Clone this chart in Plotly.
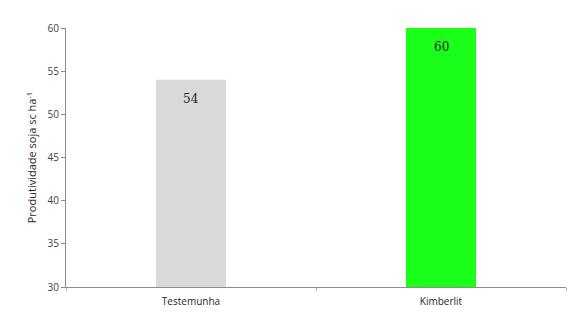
import plotly.graph_objects as go

categories = ["Testemunha", "Kimberlit"]
values = [54, 60]
colors = ["#d9d9d9", "#1aff1a"]
y_ticks = [30, 35, 40, 45, 50, 55, 60]

fig = go.Figure()
fig.add_trace(go.Bar(
    x=categories, y=values, marker_color=colors, marker_line_width=0,
    width=0.28, textposition="none",
))
for c, v in zip(categories, values):
    fig.add_annotation(x=c, y=v, text=str(v), showarrow=False, yanchor="middle",
                       yshift=-19, font=dict(family="DejaVu Serif", size=12, color="#262626"))
fig.update_layout(
    width=584, height=323, margin=dict(l=66, r=18, t=28, b=36),
    paper_bgcolor="white", plot_bgcolor="white", showlegend=False,
    font=dict(family="Open Sans", size=10, color="#404040"),
)
fig.update_yaxes(range=[30, 60], tickvals=y_ticks, showgrid=False, showline=True,
                 linecolor="#8c8c8c", linewidth=1, ticks="outside", ticklen=4,
                 tickcolor="#8c8c8c", zeroline=False,
                 title=dict(text="Produtividade soja sc ha<sup>-1</sup>", font=dict(size=11, color="#262626"), standoff=8))
fig.update_xaxes(showgrid=False, showline=True, linecolor="#8c8c8c", linewidth=1,
                 ticks="outside", tickson="boundaries", ticklen=3, tickcolor="#b0b0b0",
                 ticklabelstandoff=5,
                 tickfont=dict(size=10, color="#262626"))
fig.write_html("out.html")
